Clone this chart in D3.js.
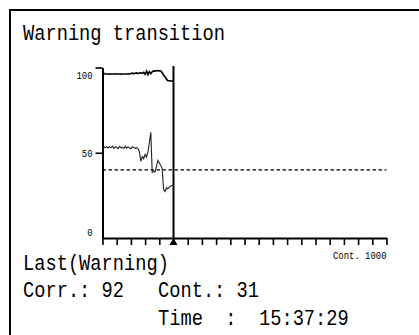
<!DOCTYPE html>
<html>
<head>
<meta charset="utf-8">
<script src="https://cdn.jsdelivr.net/npm/d3@7/dist/d3.min.js"></script>
<style>
  html, body { margin: 0; padding: 0; background: #fff; }
  svg { display: block; }
  text { font-family: "Liberation Mono", "DejaVu Sans Mono", monospace; fill: #000; }
</style>
</head>
<body>
<script>
// Warning transition trend: correlation (upper) and contrast (lower) history up to the cursor.
const sampleStep = 5;               // counts between stored samples
const corrValues = [97.8, 96.4, 96.2, 96.2, 96.2, 96.1, 96.2, 96.2, 96.2, 96.3, 96.2, 96.2, 96.2, 96.1, 96.2, 96.2, 96.2, 96.2, 96.3, 96.2,
  96.5, 96.7, 96.4, 96.6, 96.8, 96.5, 96.7, 96.9, 96.6, 97.2, 96.0, 97.9, 95.8, 97.6, 96.4, 97.5,
  98.0, 97.9, 98.1, 98.2, 98.0, 98.1, 96.9, 95.6, 94.6, 93.3, 92.3, 92.2, 92.1, 92.0, 92.0];
const contValues = [50.8, 53.3, 53.0, 53.6, 52.8, 53.5, 53.0, 53.9, 52.6, 53.4, 53.1, 52.4, 53.7, 52.9, 53.2, 52.5, 53.8, 52.7, 53.4, 53.0,
  52.3, 53.5, 53.1, 52.6, 53.0, 52.4, 50.5, 45.0, 47.8, 46.5, 49.0, 47.5, 50.5, 56.0, 62.0,
  38.5, 39.2, 38.8, 42.0, 45.5, 44.0, 42.5, 41.0, 28.5, 27.2, 29.5, 28.8, 30.0, 30.5, 30.8, 31.0];
const threshold = 40;
const cursorCount = 250;
const countMax = 1000;
const countTicks = [0, 50, 100, 150, 200, 250, 300, 350, 400, 450, 500, 550, 600, 650, 700, 750, 800, 850, 900, 950, 1000];
const valueTicks = [0, 50, 100];
const valueTickLabels = ["0", "50", "100"];

const titleText = "Warning transition";
const lastLabel = "Last(Warning)";
const corrLabel = "Corr.: 92";
const contLabel = "Cont.: 31";
const timeLabel = "Time  :  15:37:29";
const countAxisLabel = "Cont. 1000";

const W = 419, H = 335;
const svg = d3.select("body").append("svg").attr("width", W).attr("height", H);

// panel frame
svg.append("path")
  .attr("d", `M10,${H} V10 H${W}`)
  .attr("fill", "none").attr("stroke", "#000").attr("stroke-width", 2);

const x = d3.scaleLinear().domain([0, countMax]).range([102.5, 386.5]);
const y = d3.scaleLinear().domain([0, 100]).range([238, 67.5]);
// value labels sit on their own slightly compressed scale
const yLabel = d3.scaleLinear().domain([0, 100]).range([235.5, 79]);

// condensed monospace text: tall glyphs on an ~11.25px pitch
function bigText(g, px, py, str, anchor) {
  return g.append("text")
    .attr("transform", `translate(${px},${py}) scale(0.87,1)`)
    .attr("text-anchor", anchor || "start")
    .attr("xml:space", "preserve").style("white-space", "pre")
    .style("font-size", "21.5px")
    .text(str);
}
function smallText(g, px, py, str, anchor) {
  return g.append("text")
    .attr("transform", `translate(${px},${py}) scale(0.85,1)`)
    .attr("text-anchor", anchor || "start")
    .style("font-size", "10.5px")
    .text(str);
}

// title
bigText(svg, 23, 39.5, titleText);

// y axis
const yAxis = d3.axisLeft(y).tickValues([50, 100]).tickSize(7).tickSizeOuter(0).tickFormat("");
const gy = svg.append("g").attr("transform", `translate(${x(0)},0)`).call(yAxis);
gy.select(".domain").attr("stroke-width", 2);
gy.selectAll(".tick line").attr("stroke-width", 1.6);

const gyl = svg.append("g");
valueTicks.forEach((d, i) => smallText(gyl, 92.5, yLabel(d), valueTickLabels[i], "end"));

// x axis
const xAxis = d3.axisBottom(x).tickValues(countTicks).tickSize(7).tickSizeOuter(0).tickFormat("");
const gx = svg.append("g").attr("transform", `translate(0,${y(0)})`).call(xAxis);
gx.select(".domain").attr("stroke-width", 2);
gx.selectAll(".tick line").attr("stroke-width", 1.6);

smallText(svg, x(countMax), 258.5, countAxisLabel, "end");

// threshold
svg.append("line")
  .attr("x1", x(0)).attr("x2", x(countMax))
  .attr("y1", y(threshold)).attr("y2", y(threshold))
  .attr("stroke", "#000").attr("stroke-width", 1.3).attr("stroke-dasharray", "3.5,2.5");

// series
const line = d3.line().x((d, i) => x(i * sampleStep)).y(d => y(d));
svg.append("path").datum(corrValues).attr("d", line)
  .attr("fill", "none").attr("stroke", "#000").attr("stroke-width", 1.6);
svg.append("path").datum(contValues).attr("d", line)
  .attr("fill", "none").attr("stroke", "#222").attr("stroke-width", 1.1);

// cursor
svg.append("line")
  .attr("x1", x(cursorCount)).attr("x2", x(cursorCount))
  .attr("y1", 66).attr("y2", y(0))
  .attr("stroke", "#000").attr("stroke-width", 2);
svg.append("path")
  .attr("d", `M${x(cursorCount)},${y(0)} L${x(cursorCount) - 4},${y(0) + 7} L${x(cursorCount) + 4},${y(0) + 7} Z`)
  .attr("fill", "#000");

// status text
const info = svg.append("g");
bigText(info, 23, 269.5, lastLabel);
bigText(info, 23, 296.5, corrLabel);
bigText(info, 158, 296.5, contLabel);
bigText(info, 158, 325, timeLabel);
</script>
</body>
</html>
